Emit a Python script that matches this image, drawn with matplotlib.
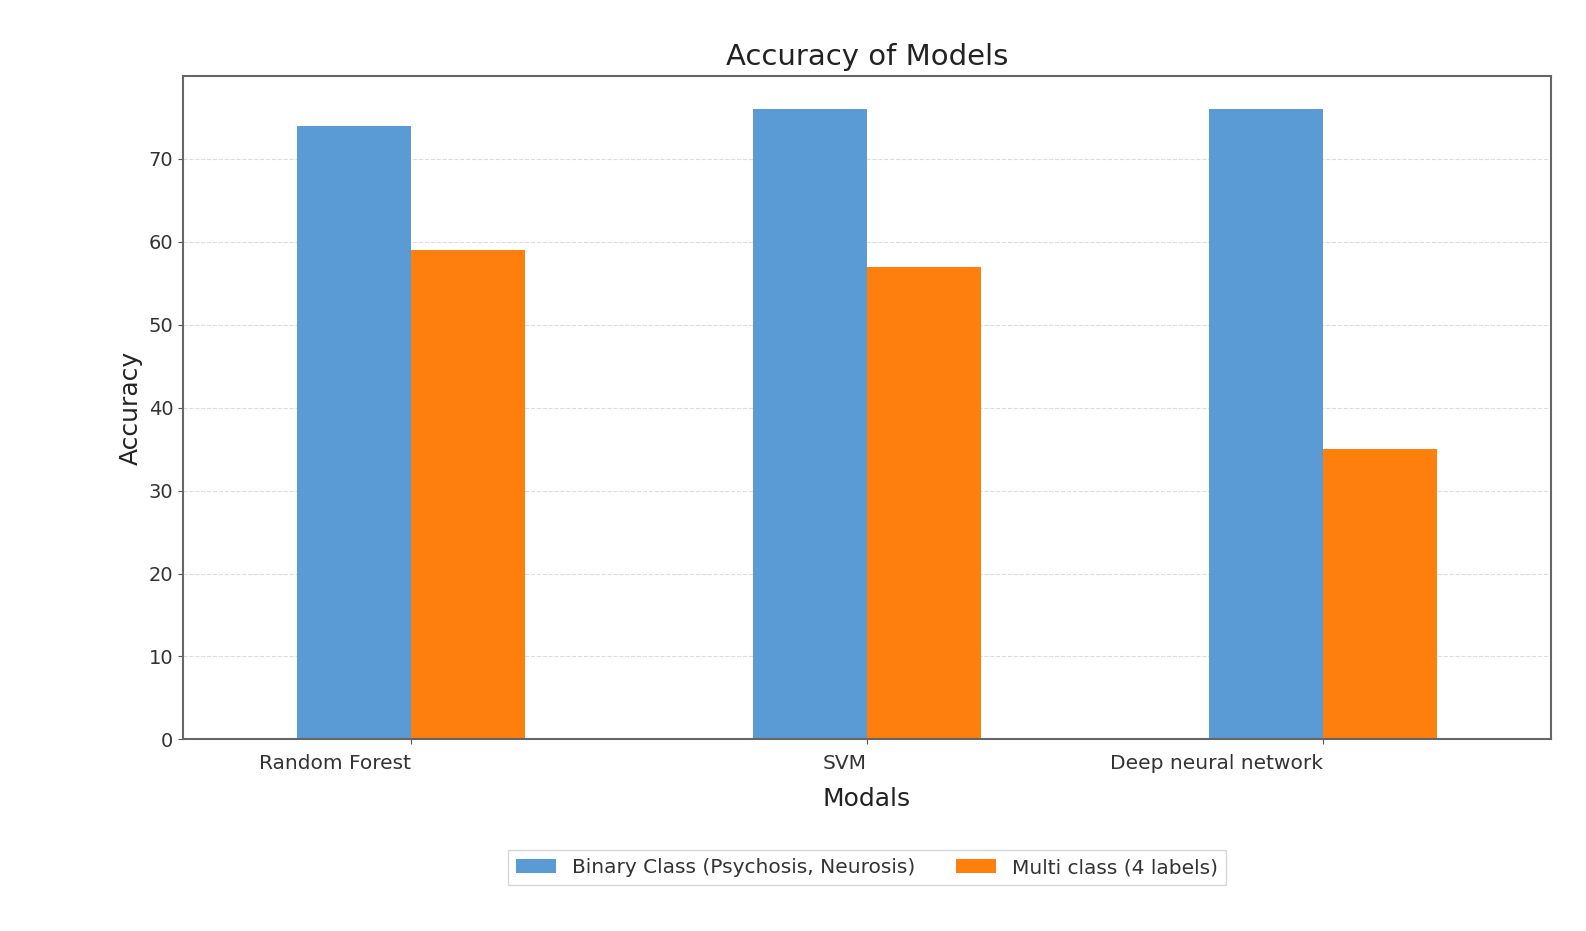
import numpy as np
import matplotlib.pyplot as plt

models = ["Random Forest", "SVM", "Deep neural network"]
binary_acc = [74, 76, 76]
multi_acc = [59, 57, 35]
series_labels = ["Binary Class (Psychosis, Neurosis)", "Multi class (4 labels)"]
yticks = [0, 10, 20, 30, 40, 50, 60, 70]

BLUE = "#5b9bd5"
ORANGE = "#ff7f0e"

fig = plt.figure(figsize=(15.86, 9.31), dpi=100)
ax = fig.add_axes([0.1154, 0.2058, 0.8623, 0.7127])

x = np.arange(len(models))
w = 0.25
ax.bar(x - w / 2, binary_acc, w, color=BLUE, label=series_labels[0], zorder=2)
ax.bar(x + w / 2, multi_acc, w, color=ORANGE, label=series_labels[1], zorder=2)

ax.set_xlim(-0.5, 2.5)
ax.set_ylim(0, 80)
ax.set_yticks(yticks)
ax.set_xticks(x)
ax.set_xticklabels(models, ha="right", fontsize=14.5, color="#333333")
ax.tick_params(axis="y", labelsize=14, labelcolor="#333333", color="#555555")
ax.tick_params(axis="x", color="#555555", pad=7)
ax.grid(axis="y", ls="--", color="#dddddd", lw=0.8, zorder=0)
for s in ax.spines.values():
    s.set_color("#666666")
    s.set_linewidth(1.5)

ax.set_title("Accuracy of Models", fontsize=21, color="#222222", pad=8)
ax.set_xlabel("Modals", fontsize=18, color="#222222", labelpad=10)
ax.set_ylabel("Accuracy", fontsize=18, color="#222222")

ax.legend(loc="upper center", bbox_to_anchor=(0.5, -0.152), ncol=2,
          fontsize=14.5, frameon=True, fancybox=False, edgecolor="#cccccc",
          handlelength=2.0, columnspacing=2.0, labelcolor="#333333")

fig.savefig("out.png", dpi=100, facecolor="white")
